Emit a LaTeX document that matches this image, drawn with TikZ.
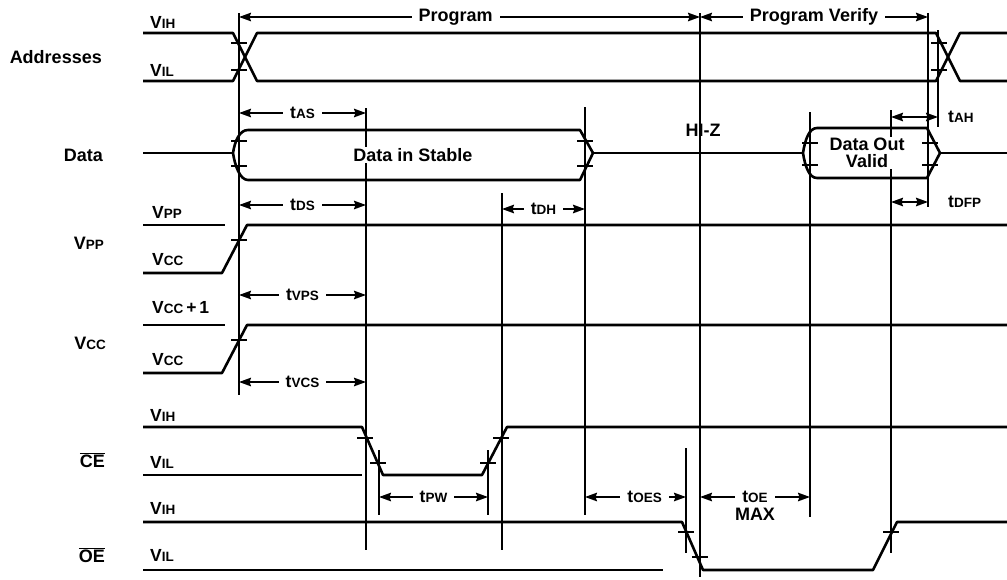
\documentclass[tikz,border=0pt]{standalone}
\usepackage{fontspec}
\setmainfont{Liberation Sans}
\usetikzlibrary{arrows.meta, positioning}

% letter with small capital suffix, as in t_AS or V_IH
\newcommand{\lsub}[2]{#1{\fontsize{13.5}{15}\selectfont #2}}

\begin{document}
\begin{tikzpicture}[x=1pt, y=-1pt, >={Stealth[length=12pt, width=8.5pt, inset=1.5pt]},
  sig/.style={line width=2.6pt, line join=round},
  vline/.style={line width=2.2pt},
  tickmark/.style={line width=1.6pt},
  dim/.style={<->, line width=1.9pt},
  signame/.style={anchor=east, inner sep=0pt, font=\fontsize{18}{20}\selectfont\bfseries},
  level/.style={anchor=west, inner sep=0pt, font=\fontsize{17.5}{19}\selectfont\bfseries},
  tlab/.style={fill=white, inner xsep=7pt, inner ysep=1pt, font=\fontsize{17.5}{19}\selectfont\bfseries},
  big/.style={font=\fontsize{18}{20}\selectfont\bfseries}]

\useasboundingbox (0,0) rectangle (1007,579);

% time marks (tops of the vertical lines)
\coordinate (t1) at (239,13);
\coordinate (t2) at (366,108);
\coordinate (t3) at (502,193);
\coordinate (t4) at (585,107);
\coordinate (t5) at (700,13);
\coordinate (t6) at (810,112);
\coordinate (t7) at (891,110);
\coordinate (t8) at (928,13);
\coordinate (t9) at (938,30);
\coordinate (pw1) at (379,450);
\coordinate (pw2) at (488,450);
\coordinate (oes) at (686,448);

% vertical lines
\draw[vline] (t1) -- (t1 |- 0,395);
\draw[vline] (t2) -- (t2 |- 0,550);
\draw[vline] (t3) -- (t3 |- 0,550);
\draw[vline] (t4) -- (t4 |- 0,515);
\draw[vline] (t5) -- (t5 |- 0,577);
\draw[vline] (t6) -- (t6 |- 0,517);
\draw[vline] (t7) -- (t7 |- 0,553);
\draw[vline] (t8) -- (t8 |- 0,207);
\draw[vline] (t9) -- (t9 |- 0,127);
\draw[vline] (pw1) -- (pw1 |- 0,515);
\draw[vline] (pw2) -- (pw2 |- 0,515);
\draw[vline] (oes) -- (oes |- 0,553);

% signal names
\node[signame] (addr) at (102,57) {Addresses};
\node[signame] (data) at (103,155) {Data};
\node[signame] (vpp) at (104,243) {\lsub{V}{PP}};
\node[signame] (vcc) at (106,343) {\lsub{V}{CC}};
\node[signame] (ce) at (105,460) {$\overline{\hbox{CE}}$};
\node[signame] (oe) at (105,555) {$\overline{\hbox{OE}}$};

% level names
\node[level] (aih) at (150,22) {\lsub{V}{IH}};
\node[level] (ail) at (150,70) {\lsub{V}{IL}};
\node[level] (pph) at (152,212) {\lsub{V}{PP}};
\node[level] (ppl) at (152,260) {\lsub{V}{CC}};
\node[level] (cch) at (152,308) {\lsub{V}{CC}\,+\,1};
\node[level] (ccl) at (152,360) {\lsub{V}{CC}};
\node[level] (ceh) at (150,415) {\lsub{V}{IH}};
\node[level] (cel) at (150,462) {\lsub{V}{IL}};
\node[level] (oeh) at (150,508) {\lsub{V}{IH}};
\node[level] (oel) at (150,555) {\lsub{V}{IL}};

% Addresses
\draw[sig] (143,33) -- (233,33) -- (257,81) -- (936,81) -- (960,33) -- (1007,33);
\draw[sig] (143,81) -- (233,81) -- (257,33) -- (936,33) -- (960,81) -- (1007,81);

% Data
\draw[sig] (143,153) -- (233,153);
\draw[sig] (248,130) .. controls (240,130) and (235,140) .. (233,153)
  .. controls (235,166) and (240,180) .. (248,180) -- (580,180) -- (593,153) -- (580,130) -- cycle;
\draw[sig] (593,153) -- (803,153);
\draw[sig] (817,128) .. controls (809,128) and (805,140) .. (803,153)
  .. controls (805,166) and (809,178) .. (817,178) -- (927,178) -- (940,153) -- (927,128) -- cycle;
\draw[sig] (940,153) -- (1007,153);

% Vpp
\draw[sig] (143,225) -- (225,225);
\draw[sig] (143,273) -- (222,273) -- (247,225) -- (1007,225);

% Vcc
\draw[sig] (143,325) -- (225,325);
\draw[sig] (143,373) -- (222,373) -- (247,325) -- (1007,325);

% CE
\draw[sig] (143,475) -- (362,475);
\draw[sig] (143,427) -- (362,427) -- (383,475) -- (482,475) -- (507,427) -- (1007,427);

% OE
\draw[sig] (143,570) -- (663,570);
\draw[sig] (143,522) -- (682,522) -- (703,570) -- (873,570) -- (897,522) -- (1007,522);

% threshold ticks
\foreach \x/\y in {239/43, 239/70, 939/43, 939/70, 239/141, 239/166, 585/141, 585/166,
  810/143, 810/165, 930/143, 930/165, 239/240, 239/340,
  365/438, 378/463, 488/463, 501/438, 686/532, 700/557, 891/532}
  \draw[tickmark] (\x-8,\y) -- (\x+8,\y);

% bus texts
\node[big, fill=white, inner sep=1pt] (stable) at (413,155) {Data in Stable};
\node[big] (hiz) at (703,130) {HI-Z};
\node[big, fill=white, inner sep=1pt, align=center] (dout) at (867,153) {Data Out\\[-3pt]Valid};

% timing arrows
\draw[dim] (t1 |- 0,17) -- node[tlab, pos=.47, font=\fontsize{18}{20}\selectfont\bfseries] {Program} (t5 |- 0,17);
\draw[dim] (t5 |- 0,17) -- node[tlab, font=\fontsize{18}{20}\selectfont\bfseries] {Program Verify} (t8 |- 0,17);
\draw[dim] (t1 |- 0,113) -- node[tlab] {\lsub{t}{AS}} (t2 |- 0,113);
\draw[dim] (t1 |- 0,205) -- node[tlab] {\lsub{t}{DS}} (t2 |- 0,205);
\draw[dim] (t3 |- 0,209) -- node[tlab] {\lsub{t}{DH}} (t4 |- 0,209);
\draw[dim] (t1 |- 0,295) -- node[tlab] {\lsub{t}{VPS}} (t2 |- 0,295);
\draw[dim] (t1 |- 0,382) -- node[tlab] {\lsub{t}{VCS}} (t2 |- 0,382);
\draw[dim] (pw1 |- 0,497) -- node[tlab] {\lsub{t}{PW}} (pw2 |- 0,497);
\draw[dim] (t4 |- 0,497) -- node[tlab, pos=.59] {\lsub{t}{OES}} (oes |- 0,497);
\draw[dim] (t5 |- 0,497) -- node[tlab] (toe) {\lsub{t}{OE}} (t6 |- 0,497);
\node[big, below=0pt of toe] (tmax) {MAX};
\draw[dim] (t7 |- 0,117) -- (t9 |- 0,117);
\node[level] (tah) at (948,117) {\lsub{t}{AH}};
\draw[dim] (t7 |- 0,202) -- (t8 |- 0,202);
\node[level] (tdfp) at (948,202) {\lsub{t}{DFP}};
\end{tikzpicture}
\end{document}
